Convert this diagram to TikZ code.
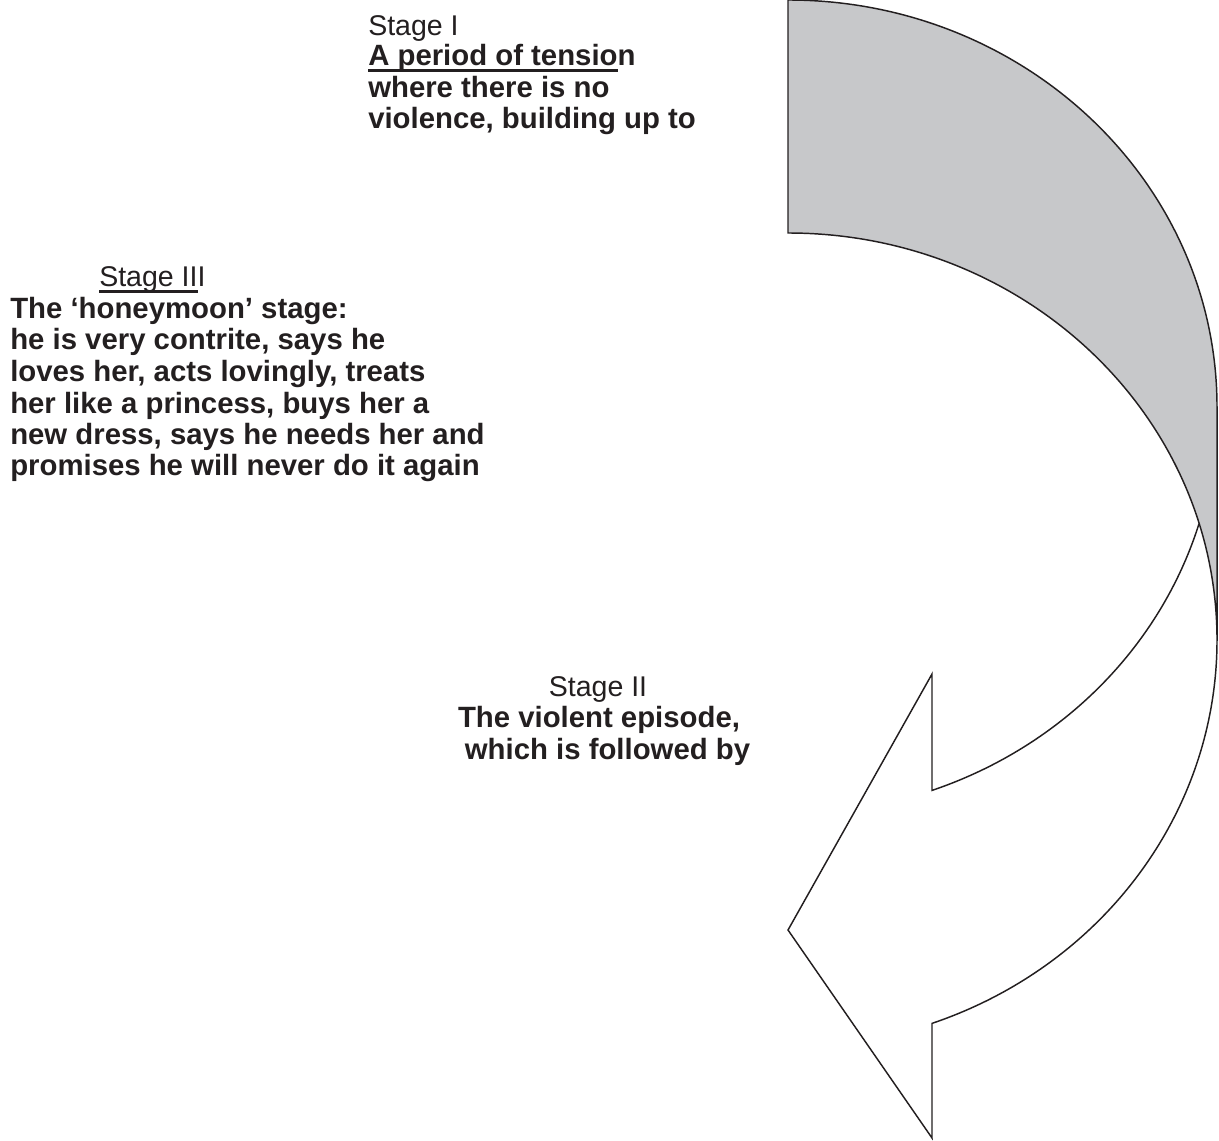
\documentclass[tikz,border=0pt]{standalone}
\usepackage{fontspec}
\setmainfont{Liberation Sans}
\definecolor{ink}{HTML}{231F20}
\definecolor{backgray}{HTML}{C7C8CA}
\newcommand\ulin[1]{\setbox0=\hbox{#1}\rlap{\rule[-4.2pt]{\wd0}{1.6pt}}\box0}
\begin{document}
\begin{tikzpicture}[x=0.75pt,y=0.75pt,
  txt/.style={inner sep=0pt,anchor=base west,text=ink,font=\fontsize{21.4}{23.8}\selectfont},
  btxt/.style={txt,font=\fontsize{22}{23.8}\selectfont\bfseries},
  outline/.style={draw=ink,line width=1.1pt,line join=miter},
  ell/.style={x radius=321.75pt,y radius=305.25pt}]
\useasboundingbox (0,0) rectangle (1219,1140);
% shaded back of the curved arrow
\fill[backgray] (788,1140) arc[start angle=90,end angle=0,ell] -- (1217,500)
  arc[start angle=0,end angle=90,ell] -- cycle;
% front of the curved arrow
\fill[white] (1199,616.5) arc[start angle=16.63,end angle=-70.39,ell]
  -- (932,2) -- (788,210) -- (932,466) -- (932,349.6)
  arc[start angle=-70.39,end angle=-16.63,ell] -- cycle;
% outline
\draw[outline] (1217,500) arc[start angle=0,end angle=90,ell] -- (788,1140)
  arc[start angle=90,end angle=0,ell] -- (1217,500)
  arc[start angle=0,end angle=-70.39,ell] -- (932,2) -- (788,210) -- (932,466)
  -- (932,349.6) arc[start angle=-70.39,end angle=-16.63,ell];
% Stage I
\node[txt]  (s1a) at (368,1104) {Stage I};
\node[btxt] (s1b) at (368,1074) {\ulin{A period of tensio}n};
\node[btxt] (s1c) at (368,1042.5) {where there is no};
\node[btxt] (s1d) at (368,1011) {violence, building up to};
% Stage III
\node[txt]  (s3a) at (99,853) {\ulin{Stage II}I};
\node[btxt] (s3b) at (10,821.5) {The ‘honeymoon’ stage:};
\node[btxt] (s3c) at (10,790) {he is very contrite, says he};
\node[btxt] (s3d) at (10,758.3) {loves her, acts lovingly, treats};
\node[btxt] (s3e) at (10,726.7) {her like a princess, buys her a};
\node[btxt] (s3f) at (10,695.3) {new dress, says he needs her and};
\node[btxt] (s3g) at (10,664) {promises he will never do it again};
% Stage II
\node[txt,anchor=base]  (s2a) at (598,444) {Stage II};
\node[btxt,anchor=base] (s2b) at (599,412.5) {The violent episode,};
\node[btxt,anchor=base] (s2c) at (607.5,381) {which is followed by};
\end{tikzpicture}
\end{document}
